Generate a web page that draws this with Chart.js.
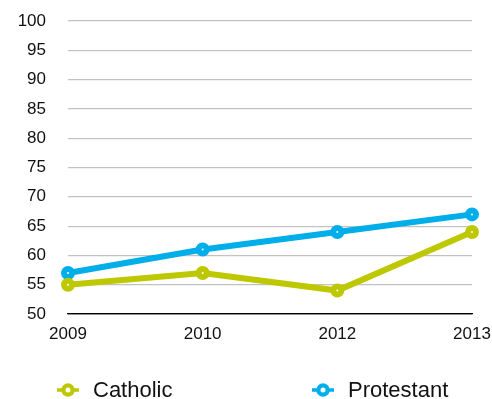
<!DOCTYPE html>
<html>
<head>
<meta charset="utf-8">
<script src="https://cdn.jsdelivr.net/npm/chart.js@4"></script>
<style>
  html, body { margin: 0; padding: 0; background: #fff; }
  #wrap { width: 492px; height: 399px; position: relative; }
</style>
</head>
<body>
<div id="wrap"><canvas id="c" width="492" height="399"></canvas></div>
<script>
const categories = ["2009", "2010", "2012", "2013"];
const catholic = [55, 57, 54, 64];
const protestant = [57, 61, 64, 67];
const seriesNames = ["Catholic", "Protestant"];
const seriesColors = ["#bdc800", "#00aeea"];
const yMin = 50, yMax = 100, yStep = 5;

const FONT = "'Liberation Sans', Arial, Helvetica, sans-serif";

function markerCanvas(color) {
  const c = document.createElement('canvas');
  c.width = 22; c.height = 18;
  const g = c.getContext('2d');
  g.strokeStyle = color;
  g.lineWidth = 3.5;
  g.beginPath(); g.moveTo(0, 9); g.lineTo(22, 9); g.stroke();
  g.fillStyle = '#fff';
  g.lineWidth = 4.2;
  g.beginPath(); g.arc(11, 9, 4.6, 0, Math.PI * 2); g.fill(); g.stroke();
  return c;
}

const bottomLegend = {
  id: 'bottomLegend',
  afterDraw(chart) {
    const ctx = chart.ctx;
    const area = chart.chartArea;
    ctx.save();
    ctx.font = "22px " + FONT;
    ctx.textBaseline = 'middle';
    ctx.textAlign = 'left';
    ctx.fillStyle = '#111';
    chart.data.datasets.forEach((ds, i) => {
      const cx = area.left + i * 255;
      const cy = 390;
      const m = markerCanvas(ds.borderColor);
      ctx.drawImage(m, cx - m.width / 2, cy - m.height / 2);
      ctx.fillText(ds.label, cx + 25, cy + 1);
    });
    ctx.restore();
  }
};

const ds = (label, data, color) => ({
  label, data,
  borderColor: color,
  backgroundColor: color,
  borderWidth: 6,
  tension: 0,
  pointRadius: 4,
  pointHoverRadius: 4,
  pointBorderWidth: 6,
  pointBackgroundColor: '#ffffff',
  pointBorderColor: color,
  clip: false
});

new Chart(document.getElementById('c'), {
  type: 'line',
  data: {
    labels: categories,
    datasets: [
      ds(seriesNames[0], catholic, seriesColors[0]),
      ds(seriesNames[1], protestant, seriesColors[1])
    ]
  },
  options: {
    responsive: false,
    animation: false,
    devicePixelRatio: 1,
    layout: { padding: { top: 21, right: 20, bottom: 55, left: 0 } },
    plugins: {
      legend: { display: false },
      tooltip: { enabled: false }
    },
    scales: {
      x: {
        offset: false,
        grid: { display: true, drawOnChartArea: false, drawTicks: true, tickLength: 10, tickColor: 'rgba(0,0,0,0)' },
        border: { display: true, color: '#000', width: 1.2 },
        ticks: { color: '#111', font: { family: FONT, size: 17 }, padding: 0, maxRotation: 0 },
        afterFit(s) { s.height = 30; }
      },
      y: {
        min: yMin, max: yMax,
        grid: {
          drawTicks: true,
          tickLength: 22,
          tickColor: 'rgba(0,0,0,0)',
          color: (c) => c.tick && c.tick.value === yMin ? '#000' : '#c2c2c2',
          lineWidth: 1.2
        },
        border: { display: false },
        ticks: { stepSize: yStep, color: '#111', font: { family: FONT, size: 17 }, padding: 0 },
        afterFit(s) { s.width = 68; }
      }
    }
  },
  plugins: [bottomLegend]
});
</script>
</body>
</html>
